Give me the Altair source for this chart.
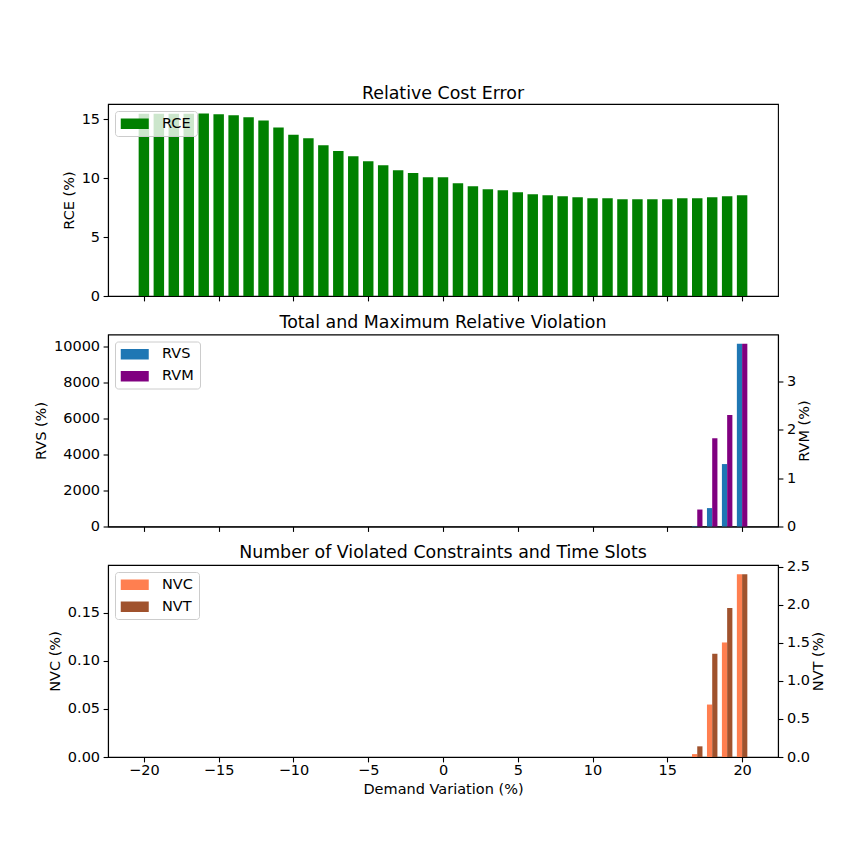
import altair as alt
import pandas as pd

x_vals = list(range(-20, 21))
rce = [15.48, 15.48, 15.48, 15.48, 15.5, 15.42, 15.34, 15.17, 14.9, 14.3,
       13.7, 13.39, 12.8, 12.3, 11.86, 11.44, 11.1, 10.68, 10.45, 10.08,
       10.08, 9.57, 9.32, 9.07, 8.98, 8.81, 8.64, 8.56, 8.47, 8.39,
       8.3, 8.3, 8.22, 8.22, 8.22, 8.22, 8.3, 8.3, 8.39, 8.47, 8.56]
rvs = [0, 0, 0, 0, 0, 0, 0, 0, 0, 0, 0, 0, 0, 0, 0, 0, 0, 0, 0, 0,
       0, 0, 0, 0, 0, 0, 0, 0, 0, 0, 0, 0, 0, 0, 0, 0, 0, 30, 1020, 3460, 10130]
rvm = [0, 0, 0, 0, 0, 0, 0, 0, 0, 0, 0, 0, 0, 0, 0, 0, 0, 0, 0, 0,
       0, 0, 0, 0, 0, 0, 0, 0, 0, 0, 0, 0, 0, 0, 0, 0, 0, 0.35, 1.82, 2.30, 3.77]
nvc = [0, 0, 0, 0, 0, 0, 0, 0, 0, 0, 0, 0, 0, 0, 0, 0, 0, 0, 0, 0,
       0, 0, 0, 0, 0, 0, 0, 0, 0, 0, 0, 0, 0, 0, 0, 0, 0, 0.003, 0.0545, 0.119, 0.19]
nvt = [0, 0, 0, 0, 0, 0, 0, 0, 0, 0, 0, 0, 0, 0, 0, 0, 0, 0, 0, 0,
       0, 0, 0, 0, 0, 0, 0, 0, 0, 0, 0, 0, 0, 0, 0, 0, 0, 0.14, 1.355, 1.955, 2.40]

x_ticks = [-20, -15, -10, -5, 0, 5, 10, 15, 20]

df = pd.DataFrame({"x": x_vals, "rce": rce, "rvs": rvs, "rvm": rvm, "nvc": nvc, "nvt": nvt})

FONT = "DejaVu Sans"
FS = 14.5
W, H = 670, 192
XDOM = [-22.4, 22.4]

LEG = alt.Legend(
    orient="top-left", offset=7, padding=5.5, fillColor="rgba(255,255,255,0.8)",
    strokeColor="#cccccc", cornerRadius=3,
    symbolType="M-1,-0.75L3,-0.75L3,0.75L-1,0.75Z", symbolSize=196,
    symbolStrokeWidth=0, symbolOpacity=1, labelOffset=27,
    labelFontSize=FS, labelFont=FONT, labelColor="black", rowPadding=7,
)


def xenc(bottom):
    kw = dict(values=x_ticks, labels=bottom, grid=False)
    if bottom:
        kw["title"] = "Demand Variation (%)"
        kw["format"] = "d"
        kw["labelPadding"] = 2
    else:
        kw["title"] = ""
    return alt.X("x1:Q", scale=alt.Scale(domain=XDOM, nice=False, zero=False), axis=alt.Axis(**kw))


def bar_layer(field, name, color_domain, color_range, off1, off2, bottom,
              ydom, yticks, yfmt, ytitle, orient):
    ax = dict(values=yticks, format=yfmt, title=ytitle, orient=orient, grid=False)
    if orient == "right":
        ax["titleAngle"] = 270
        ax["titleBaseline"] = "top"
        ax["titlePadding"] = 2
    return alt.Chart(df).transform_calculate(
        x1=f"datum.x + ({off1})", x2=f"datum.x + ({off2})", series=f"'{name}'"
    ).mark_bar().encode(
        x=xenc(bottom),
        x2="x2:Q",
        y=alt.Y(f"{field}:Q", scale=alt.Scale(domain=ydom, nice=False, zero=True), axis=alt.Axis(**ax)),
        y2=alt.datum(0),
        color=alt.Color("series:N", scale=alt.Scale(domain=color_domain, range=color_range),
                        legend=LEG, title=None),
    )


top = bar_layer("rce", "RCE", ["RCE"], ["#008000"], -0.35, 0.35, False,
                [0, 16.3], [0, 5, 10, 15], "d", "RCE (%)", "left").properties(
    width=W, height=H, title=alt.TitleParams("Relative Cost Error", offset=2))

mid_dom = ["RVS", "RVM"]
mid_rng = ["#1f77b4", "#800080"]
mid = alt.layer(
    bar_layer("rvs", "RVS", mid_dom, mid_rng, -0.35, 0, False,
              [0, 10640], [0, 2000, 4000, 6000, 8000, 10000], "d", "RVS (%)", "left"),
    bar_layer("rvm", "RVM", mid_dom, mid_rng, 0, 0.35, False,
              [0, 3.96], [0, 1, 2, 3], "d", "RVM (%)", "right"),
).resolve_scale(y="independent").properties(
    width=W, height=H, title=alt.TitleParams("Total and Maximum Relative Violation", offset=3))

bot_dom = ["NVC", "NVT"]
bot_rng = ["#ff7f50", "#a0522d"]
bot = alt.layer(
    bar_layer("nvc", "NVC", bot_dom, bot_rng, -0.35, 0, True,
              [0, 0.1995], [0, 0.05, 0.10, 0.15], ".2f", "NVC (%)", "left"),
    bar_layer("nvt", "NVT", bot_dom, bot_rng, 0, 0.35, True,
              [0, 2.52], [0, 0.5, 1.0, 1.5, 2.0, 2.5], ".1f", "NVT (%)", "right"),
).resolve_scale(y="independent").properties(
    width=W, height=H, title=alt.TitleParams("Number of Violated Constraints and Time Slots", offset=-3))

chart = alt.vconcat(top, mid, bot, spacing=38.5, bounds="flush").resolve_scale(
    color="independent"
).resolve_legend(color="independent").properties(
    padding={"left": 24, "top": 76, "right": 10, "bottom": 10}
).configure_view(
    stroke="black", strokeWidth=1.1
).configure_axis(
    labelFont=FONT, titleFont=FONT, labelFontSize=FS, titleFontSize=FS,
    titleFontWeight="normal", labelColor="black", titleColor="black",
    domainColor="black", tickColor="black", tickSize=4.9, domainWidth=1.1,
    tickWidth=1.1, labelPadding=3.5, titlePadding=5,
).configure_title(
    font=FONT, fontSize=17.4, fontWeight="normal", color="black",
    frame="group", anchor="middle",
).configure_legend(
    titleFont=FONT
)

chart.save("out.html", embed_options={"renderer": "svg", "actions": False})
